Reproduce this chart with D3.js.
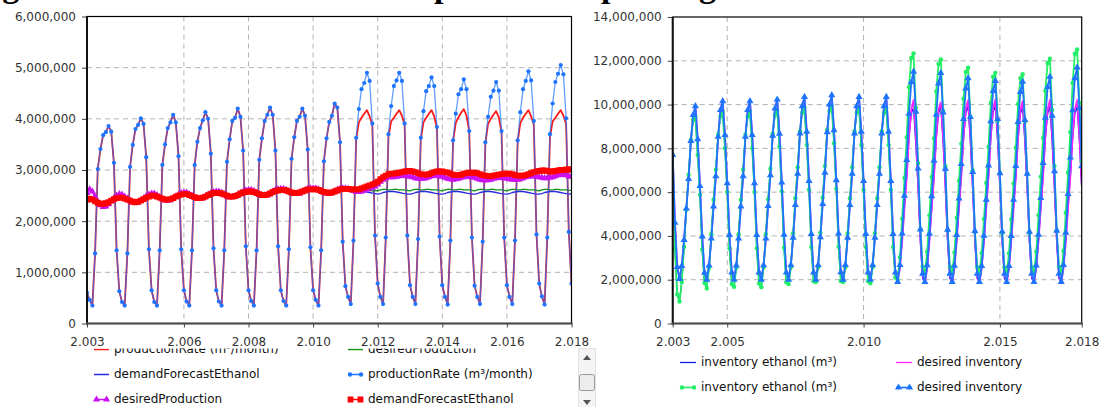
<!DOCTYPE html>
<html><head><meta charset="utf-8">
<script src="https://cdn.jsdelivr.net/npm/d3@7"></script>
<style>
body{margin:0;background:#fff;}
svg{display:block;font-family:"DejaVu Sans",sans-serif;}
</style>
</head><body>
<svg id="c" width="1105" height="407"></svg>
<script>
// ---------------- DATA (values in millions of m3, monthly, Jan 2003 .. Jan 2018) ----------------
const startYear = 2003;
const UNIT = 1e6;

// Left chart
const productionRateA = [
0.60,0.46,0.35,1.37,3.02,3.41,3.68,3.74,3.86,3.75,3.14,1.43,
0.63,0.42,0.35,1.37,3.06,3.49,3.80,3.88,4.01,3.90,3.25,1.45,
0.65,0.42,0.35,1.43,3.10,3.50,3.82,3.93,4.08,3.93,3.27,1.45,
0.65,0.43,0.35,1.43,3.10,3.55,3.82,3.97,4.13,4.00,3.32,1.47,
0.65,0.43,0.35,1.43,3.16,3.60,3.96,4.02,4.20,4.04,3.38,1.51,
0.65,0.44,0.35,1.43,3.20,3.62,3.96,4.08,4.22,4.08,3.38,1.51,
0.65,0.44,0.35,1.45,3.22,3.64,3.96,4.04,4.20,4.06,3.40,1.49,
0.65,0.46,0.35,1.43,3.17,3.62,3.94,4.06,4.30,4.22,3.54,1.60,
0.73,0.52,0.38,1.62,3.60,3.93,4.02,4.10,4.17,4.05,3.88,1.72,
0.78,0.52,0.38,1.68,3.65,3.95,4.02,4.10,4.17,4.06,3.88,1.72,
0.75,0.52,0.38,1.65,3.60,3.93,4.02,4.10,4.17,4.05,3.82,1.70,
0.75,0.52,0.37,1.62,3.56,3.92,4.03,4.12,4.19,4.06,3.76,1.68,
0.74,0.52,0.38,1.60,3.52,3.90,4.00,4.08,4.15,4.03,3.74,1.68,
0.75,0.52,0.38,1.62,3.56,3.92,4.02,4.10,4.17,4.05,3.88,1.74,
0.78,0.53,0.37,1.68,3.65,3.95,4.02,4.10,4.17,4.06,3.90,1.79,
0.78];
const desiredProductionA = [
2.55,2.62,2.58,2.48,2.38,2.31,2.28,2.29,2.33,2.39,2.45,2.50,
2.53,2.52,2.48,2.44,2.40,2.37,2.36,2.37,2.40,2.44,2.49,2.52,
2.54,2.54,2.51,2.47,2.43,2.41,2.40,2.41,2.44,2.48,2.52,2.55,
2.56,2.56,2.53,2.50,2.46,2.44,2.44,2.45,2.48,2.52,2.55,2.57,
2.58,2.58,2.56,2.52,2.49,2.47,2.47,2.48,2.51,2.55,2.58,2.60,
2.61,2.61,2.59,2.55,2.52,2.50,2.50,2.51,2.54,2.58,2.61,2.62,
2.63,2.63,2.61,2.58,2.55,2.53,2.53,2.54,2.57,2.60,2.63,2.64,
2.64,2.64,2.62,2.59,2.56,2.54,2.54,2.55,2.58,2.61,2.63,2.64,
2.64,2.63,2.61,2.59,2.58,2.59,2.60,2.61,2.61,2.60,2.59,2.60,
2.59,2.61,2.62,2.62,2.61,2.61,2.62,2.62,2.61,2.61,2.61,2.60,
2.59,2.61,2.62,2.62,2.61,2.61,2.62,2.62,2.61,2.61,2.61,2.60,
2.59,2.61,2.62,2.62,2.61,2.61,2.62,2.62,2.61,2.61,2.61,2.60,
2.59,2.61,2.62,2.62,2.61,2.61,2.62,2.62,2.61,2.61,2.61,2.60,
2.59,2.61,2.62,2.62,2.61,2.61,2.62,2.62,2.61,2.61,2.61,2.60,
2.59,2.61,2.62,2.62,2.61,2.61,2.62,2.62,2.61,2.61,2.61,2.60,
2.60];
const demandForecastA = [
2.42,2.44,2.42,2.39,2.36,2.34,2.34,2.35,2.37,2.40,2.43,2.45,
2.46,2.46,2.44,2.42,2.40,2.38,2.37,2.38,2.40,2.43,2.46,2.48,
2.50,2.50,2.48,2.46,2.44,2.42,2.42,2.43,2.45,2.48,2.50,2.52,
2.53,2.53,2.51,2.49,2.47,2.45,2.45,2.46,2.48,2.51,2.53,2.55,
2.55,2.55,2.54,2.52,2.50,2.48,2.48,2.49,2.51,2.54,2.56,2.57,
2.58,2.58,2.57,2.55,2.53,2.51,2.51,2.52,2.54,2.57,2.59,2.60,
2.61,2.61,2.60,2.58,2.56,2.55,2.55,2.56,2.58,2.60,2.62,2.62,
2.62,2.62,2.61,2.59,2.57,2.56,2.55,2.56,2.58,2.60,2.62,2.63,
2.63,2.63,2.62,2.61,2.60,2.59,2.58,2.58,2.57,2.56,2.55,2.54,
2.53,2.54,2.56,2.57,2.58,2.58,2.58,2.57,2.56,2.55,2.54,2.53,
2.53,2.54,2.56,2.57,2.58,2.58,2.58,2.57,2.56,2.55,2.54,2.53,
2.53,2.54,2.56,2.57,2.58,2.58,2.58,2.57,2.56,2.55,2.54,2.53,
2.53,2.54,2.56,2.57,2.58,2.58,2.58,2.57,2.56,2.55,2.54,2.53,
2.53,2.54,2.56,2.57,2.58,2.58,2.58,2.57,2.56,2.55,2.54,2.53,
2.53,2.54,2.56,2.57,2.58,2.58,2.58,2.57,2.56,2.55,2.54,2.53,
2.54];
const productionRateB = [
0.60,0.46,0.35,1.37,3.02,3.41,3.68,3.74,3.86,3.75,3.14,1.43,
0.63,0.42,0.35,1.37,3.06,3.49,3.80,3.88,4.01,3.90,3.25,1.45,
0.65,0.42,0.35,1.43,3.10,3.50,3.82,3.93,4.08,3.93,3.27,1.45,
0.65,0.43,0.35,1.43,3.10,3.55,3.82,3.97,4.13,4.00,3.32,1.47,
0.65,0.43,0.35,1.43,3.16,3.60,3.96,4.02,4.20,4.04,3.38,1.51,
0.65,0.44,0.35,1.43,3.20,3.62,3.96,4.08,4.22,4.08,3.38,1.51,
0.65,0.44,0.35,1.45,3.22,3.64,3.96,4.04,4.20,4.06,3.40,1.49,
0.65,0.46,0.35,1.43,3.17,3.62,3.94,4.06,4.30,4.22,3.54,1.60,
0.73,0.52,0.38,1.62,3.63,4.19,4.58,4.70,4.90,4.74,3.91,1.72,
0.78,0.52,0.38,1.68,3.70,4.25,4.64,4.75,4.90,4.74,3.91,1.72,
0.75,0.52,0.38,1.65,3.63,4.15,4.54,4.64,4.81,4.64,3.84,1.70,
0.75,0.52,0.37,1.62,3.58,4.10,4.48,4.58,4.77,4.58,3.76,1.68,
0.74,0.52,0.38,1.60,3.54,4.04,4.43,4.55,4.72,4.55,3.76,1.68,
0.75,0.52,0.38,1.62,3.58,4.13,4.58,4.74,4.93,4.75,3.96,1.74,
0.78,0.53,0.37,1.68,3.70,4.30,4.72,4.88,5.05,4.87,4.01,1.79,
0.78];
const desiredProductionB = [
2.55,2.62,2.58,2.48,2.38,2.31,2.28,2.29,2.33,2.39,2.45,2.50,
2.53,2.52,2.48,2.44,2.40,2.37,2.36,2.37,2.40,2.44,2.49,2.52,
2.54,2.54,2.51,2.47,2.43,2.41,2.40,2.41,2.44,2.48,2.52,2.55,
2.56,2.56,2.53,2.50,2.46,2.44,2.44,2.45,2.48,2.52,2.55,2.57,
2.58,2.58,2.56,2.52,2.49,2.47,2.47,2.48,2.51,2.55,2.58,2.60,
2.61,2.61,2.59,2.55,2.52,2.50,2.50,2.51,2.54,2.58,2.61,2.62,
2.63,2.63,2.61,2.58,2.55,2.53,2.53,2.54,2.57,2.60,2.63,2.64,
2.64,2.64,2.62,2.59,2.56,2.54,2.54,2.55,2.58,2.61,2.63,2.64,
2.64,2.63,2.61,2.59,2.57,2.57,2.58,2.60,2.62,2.64,2.66,2.68,
2.72,2.77,2.81,2.84,2.86,2.86,2.86,2.87,2.88,2.89,2.89,2.88,
2.87,2.86,2.84,2.83,2.83,2.83,2.84,2.86,2.88,2.89,2.89,2.88,
2.87,2.85,2.83,2.82,2.81,2.82,2.83,2.85,2.86,2.87,2.87,2.86,
2.85,2.83,2.81,2.80,2.80,2.80,2.81,2.83,2.84,2.85,2.85,2.84,
2.83,2.82,2.81,2.81,2.81,2.82,2.84,2.86,2.87,2.88,2.88,2.87,
2.86,2.85,2.84,2.84,2.85,2.86,2.88,2.90,2.91,2.91,2.90,2.88,
2.87];
const demandForecastB = [
2.42,2.44,2.42,2.39,2.36,2.34,2.34,2.35,2.37,2.40,2.43,2.45,
2.46,2.46,2.44,2.42,2.40,2.38,2.37,2.38,2.40,2.43,2.46,2.48,
2.50,2.50,2.48,2.46,2.44,2.42,2.42,2.43,2.45,2.48,2.50,2.52,
2.53,2.53,2.51,2.49,2.47,2.45,2.45,2.46,2.48,2.51,2.53,2.55,
2.55,2.55,2.54,2.52,2.50,2.48,2.48,2.49,2.51,2.54,2.56,2.57,
2.58,2.58,2.57,2.55,2.53,2.51,2.51,2.52,2.54,2.57,2.59,2.60,
2.61,2.61,2.60,2.58,2.56,2.55,2.55,2.56,2.58,2.60,2.62,2.62,
2.62,2.62,2.61,2.59,2.57,2.56,2.55,2.56,2.58,2.60,2.62,2.63,
2.63,2.63,2.62,2.62,2.62,2.62,2.64,2.66,2.68,2.70,2.72,2.74,
2.77,2.82,2.86,2.89,2.92,2.93,2.93,2.94,2.95,2.96,2.97,2.98,
2.98,2.97,2.96,2.94,2.92,2.91,2.91,2.92,2.94,2.96,2.97,2.97,
2.97,2.96,2.95,2.93,2.91,2.90,2.90,2.91,2.93,2.94,2.95,2.95,
2.95,2.94,2.92,2.90,2.89,2.88,2.88,2.89,2.90,2.91,2.92,2.93,
2.93,2.93,2.92,2.90,2.89,2.89,2.89,2.90,2.92,2.94,2.96,2.97,
2.98,2.99,2.99,2.98,2.97,2.97,2.98,2.99,3.00,3.00,3.01,3.01,
3.01];

// Right chart
const inventoryA = [
7.70,3.40,1.33,1.00,1.90,3.50,5.20,6.80,8.40,9.30,9.45,7.70,
5.88,3.38,1.85,1.60,2.55,4.08,5.65,7.03,8.63,9.45,9.66,8.01,
6.01,3.44,1.80,1.68,2.55,4.08,5.65,7.03,8.63,9.45,9.66,8.01,
6.01,3.44,1.83,1.66,2.56,4.09,5.67,7.07,8.68,9.52,9.73,8.07,
6.04,3.46,1.88,1.80,2.57,4.12,5.72,7.14,8.78,9.63,9.85,8.16,
6.11,3.49,1.93,1.89,2.57,4.14,5.76,7.19,8.84,9.71,9.93,8.23,
6.15,3.51,1.94,1.89,2.57,4.12,5.72,7.14,8.78,9.63,9.85,8.16,
6.11,3.49,1.93,1.84,2.57,4.12,5.72,7.14,8.78,9.63,9.85,8.16,
6.11,3.49,2.10,2.00,2.60,3.85,5.35,6.75,8.50,9.60,9.85,8.20,
6.20,3.70,2.05,1.90,2.55,3.80,5.30,6.70,8.45,9.60,9.90,8.30,
6.20,3.70,2.05,1.90,2.55,3.80,5.30,6.70,8.45,9.62,9.92,8.30,
6.21,3.71,2.05,1.90,2.55,3.81,5.31,6.72,8.47,9.64,9.95,8.32,
6.22,3.70,2.05,1.90,2.54,3.79,5.28,6.68,8.42,9.58,9.88,8.28,
6.19,3.69,2.05,1.90,2.55,3.80,5.30,6.70,8.45,9.60,9.90,8.30,
6.20,3.70,2.05,1.90,2.55,3.80,5.30,6.70,8.45,9.60,9.90,8.30,
6.20];
const desiredInventoryA = [
7.70,4.60,2.58,2.04,2.63,3.82,5.25,6.60,8.34,9.53,9.93,8.42,
6.28,3.98,2.32,2.00,2.65,3.88,5.35,6.73,8.53,9.75,10.16,8.61,
6.41,4.04,2.33,2.00,2.65,3.88,5.35,6.73,8.53,9.75,10.16,8.61,
6.41,4.04,2.33,2.00,2.66,3.89,5.37,6.77,8.58,9.82,10.23,8.67,
6.44,4.06,2.33,2.00,2.67,3.92,5.42,6.84,8.68,9.93,10.35,8.76,
6.51,4.09,2.33,2.00,2.67,3.94,5.46,6.89,8.74,10.01,10.43,8.83,
6.55,4.11,2.34,2.00,2.67,3.92,5.42,6.84,8.68,9.93,10.35,8.76,
6.51,4.09,2.33,2.00,2.67,3.92,5.42,6.84,8.68,9.93,10.35,8.76,
6.51,4.09,2.33,1.90,2.52,3.77,5.27,6.69,8.53,9.78,10.20,8.61,
6.36,3.94,2.18,1.85,2.52,3.77,5.27,6.69,8.53,9.78,10.10,8.55,
6.33,3.93,2.18,1.85,2.52,3.77,5.27,6.69,8.53,9.80,10.20,8.61,
6.36,3.94,2.18,1.85,2.52,3.78,5.28,6.71,8.55,9.82,10.23,8.63,
6.37,3.94,2.18,1.85,2.51,3.76,5.25,6.66,8.49,9.74,10.15,8.57,
6.33,3.92,2.18,1.85,2.52,3.77,5.27,6.69,8.53,9.78,10.20,8.61,
6.36,3.94,2.18,1.85,2.52,3.77,5.27,6.69,8.53,9.78,10.20,8.61,
6.36];
const inventoryB = [
7.70,3.40,1.33,1.00,1.90,3.50,5.20,6.80,8.40,9.30,9.45,7.70,
5.88,3.38,1.85,1.60,2.55,4.08,5.65,7.03,8.63,9.45,9.66,8.01,
6.01,3.44,1.80,1.68,2.55,4.08,5.65,7.03,8.63,9.45,9.66,8.01,
6.01,3.44,1.83,1.66,2.56,4.09,5.67,7.07,8.68,9.52,9.73,8.07,
6.04,3.46,1.88,1.80,2.57,4.12,5.72,7.14,8.78,9.63,9.85,8.16,
6.11,3.49,1.93,1.89,2.57,4.14,5.76,7.19,8.84,9.71,9.93,8.23,
6.15,3.51,1.94,1.89,2.57,4.12,5.72,7.14,8.78,9.63,9.85,8.16,
6.11,3.49,1.93,1.84,2.57,4.12,5.72,7.14,8.78,9.63,9.85,8.16,
6.11,3.49,2.10,2.00,3.03,4.79,6.65,8.51,10.79,12.13,12.34,9.86,
7.32,4.31,2.60,2.30,3.28,4.94,6.69,8.45,10.60,11.86,12.06,9.72,
7.18,4.25,2.59,2.30,3.24,4.83,6.52,8.21,10.27,11.49,11.68,9.43,
6.99,4.18,2.58,2.30,3.22,4.77,6.42,8.06,10.08,11.27,11.45,9.25,
6.88,4.13,2.57,2.30,3.21,4.75,6.39,8.03,10.03,11.21,11.39,9.21,
6.85,4.12,2.57,2.30,3.28,4.95,6.71,8.47,10.63,11.90,12.10,9.75,
7.20,4.26,2.59,2.30,3.32,5.06,6.90,8.74,10.99,12.32,12.52,10.07,
7.41];
const desiredInventoryB = [
7.70,4.60,2.58,2.04,2.63,3.82,5.25,6.60,8.34,9.53,9.93,8.42,
6.28,3.98,2.32,2.00,2.65,3.88,5.35,6.73,8.53,9.75,10.16,8.61,
6.41,4.04,2.33,2.00,2.65,3.88,5.35,6.73,8.53,9.75,10.16,8.61,
6.41,4.04,2.33,2.00,2.66,3.89,5.37,6.77,8.58,9.82,10.23,8.67,
6.44,4.06,2.33,2.00,2.67,3.92,5.42,6.84,8.68,9.93,10.35,8.76,
6.51,4.09,2.33,2.00,2.67,3.94,5.46,6.89,8.74,10.01,10.43,8.83,
6.55,4.11,2.34,2.00,2.67,3.92,5.42,6.84,8.68,9.93,10.35,8.76,
6.51,4.09,2.33,2.00,2.67,3.92,5.42,6.84,8.68,9.93,10.35,8.76,
6.51,4.09,2.33,1.90,2.67,4.11,5.84,7.47,9.58,11.02,11.50,9.68,
7.08,4.30,2.28,1.90,2.66,4.10,5.82,7.44,9.54,10.97,11.45,9.64,
7.06,4.29,2.28,1.90,2.64,4.04,5.71,7.29,9.34,10.74,11.20,9.43,
6.92,4.23,2.27,1.90,2.63,4.01,5.66,7.22,9.24,10.62,11.08,9.34,
6.86,4.20,2.27,1.90,2.63,4.00,5.65,7.20,9.21,10.58,11.04,9.30,
6.84,4.19,2.27,1.90,2.65,4.06,5.74,7.33,9.40,10.80,11.27,9.49,
6.96,4.24,2.27,1.90,2.68,4.15,5.92,7.58,9.74,11.21,11.70,9.84,
7.19];

// Axis ticks and labels
const leftXTicks = [2003, 2006, 2008, 2010, 2012, 2014, 2016, 2018];
const leftYTicks = [0, 1, 2, 3, 4, 5, 6];
const rightXTicks = [2003, 2005, 2010, 2015, 2018];
const rightYTicks = [0, 2, 4, 6, 8, 10, 12, 14];
// title line of the page, cut off by the top edge (only its descenders show)
const titleParts = [
  {x: -28, t: "Figura 5 – Taxa de"},
  {x: 434, t: "produto"},
  {x: 601, t: "pelo"},
  {x: 699, t: "gerado"}
];

const leftLegend = [
  {name:"productionRate (m³/month)", kind:"line", color:"#ff1a1a"},
  {name:"desiredProduction", kind:"line", color:"#129112"},
  {name:"demandForecastEthanol", kind:"line", color:"#2a2ae0"},
  {name:"productionRate (m³/month)", kind:"circle", color:"#1f74ff"},
  {name:"desiredProduction", kind:"triangle", color:"#cc10f0"},
  {name:"demandForecastEthanol", kind:"square", color:"#ff0000"}
];
const rightLegend = [
  {name:"inventory ethanol (m³)", kind:"line", color:"#1a1ae6"},
  {name:"desired inventory", kind:"line", color:"#ff22ff"},
  {name:"inventory ethanol (m³)", kind:"circle", color:"#22ee66"},
  {name:"desired inventory", kind:"triangle", color:"#1f74ff"}
];

// ---------------- DRAWING ----------------
const svg = d3.select("#c");
const months = d3.range(productionRateB.length).map(i => startYear + i / 12);
const fmtX = d3.formatLocale({decimal:",", thousands:".", grouping:[3], currency:["",""]}).format(",");
const fmtY = d3.format(",");

const title = svg.append("text")
  .attr("font-family", "'Liberation Serif', serif").attr("font-weight", "bold")
  .attr("font-size", 34).attr("fill", "#000");
titleParts.forEach(p => title.append("tspan").attr("x", p.x).attr("y", -3).text(p.t));

function symbolPath(kind) {
  if (kind === "triangle") return d3.symbol(d3.symbolTriangle, 22)();
  if (kind === "square") return d3.symbol(d3.symbolSquare, 34)();
  return null;
}

function drawChart(cfg) {
  const x = d3.scaleLinear().domain([2003, 2018]).range([cfg.x0, cfg.x1]);
  const y = d3.scaleLinear().domain([0, cfg.yMax]).range([cfg.yb, cfg.yt]);
  const g = svg.append("g");
  const clipId = "clip" + cfg.id;
  svg.append("clipPath").attr("id", clipId).append("rect")
    .attr("x", cfg.x0).attr("y", cfg.yt).attr("width", cfg.x1 - cfg.x0).attr("height", cfg.yb - cfg.yt);

  // grid
  g.selectAll(".hg").data(cfg.yTicks.filter(v => v > 0 && v < cfg.yMax)).join("line")
    .attr("x1", cfg.x0).attr("x2", cfg.x1).attr("y1", d => y(d)).attr("y2", d => y(d))
    .attr("stroke", "#b3b3b3").attr("stroke-width", 1).attr("stroke-dasharray", "5,4");
  g.selectAll(".vg").data(cfg.xTicks.filter(v => v > 2003 && v < 2018)).join("line")
    .attr("x1", d => x(d)).attr("x2", d => x(d)).attr("y1", cfg.yt).attr("y2", cfg.yb)
    .attr("stroke", "#b3b3b3").attr("stroke-width", 1).attr("stroke-dasharray", "5,4");

  // axes
  const ay = g.append("g").attr("transform", `translate(${cfg.x0},0)`)
    .call(d3.axisLeft(y).tickValues(cfg.yTicks).tickFormat(v => fmtY(v * UNIT)).tickSize(5).tickPadding(6).tickSizeOuter(0));
  const ax = g.append("g").attr("transform", `translate(0,${cfg.yb})`)
    .call(d3.axisBottom(x).tickValues(cfg.xTicks).tickFormat(fmtX).tickSize(4).tickPadding(10).tickSizeOuter(0));
  [ay, ax].forEach(a => {
    a.select(".domain").remove();
    a.selectAll("line").attr("stroke", "#444");
    a.selectAll("text").attr("font-size", 12).attr("fill", "#333").attr("font-family", "'DejaVu Sans', sans-serif");
  });

  // series
  const plot = g.append("g").attr("clip-path", `url(#${clipId})`);
  cfg.series.forEach(s => {
    const line = d3.line().x((d, i) => x(months[i])).y(d => y(d));
    plot.append("path").datum(s.data).attr("d", line)
      .attr("fill", "none").attr("stroke", s.color).attr("stroke-width", s.width)
      .attr("stroke-opacity", s.opacity || 1).attr("stroke-linejoin", "round");
    if (s.kind === "circle") {
      plot.append("g").selectAll("circle").data(s.data).join("circle")
        .attr("cx", (d, i) => x(months[i])).attr("cy", d => y(d)).attr("r", s.r || 2.1).attr("fill", s.color);
    } else if (s.kind === "triangle" || s.kind === "square") {
      const p = symbolPath(s.kind);
      plot.append("g").selectAll("path").data(s.data).join("path")
        .attr("d", p).attr("transform", (d, i) => `translate(${x(months[i])},${y(d)})`).attr("fill", s.color);
    }
  });

  // frame
  g.append("rect").attr("x", cfg.x0).attr("y", cfg.yt).attr("width", cfg.x1 - cfg.x0).attr("height", cfg.yb - cfg.yt)
    .attr("fill", "none").attr("stroke", "#000").attr("stroke-width", 1.2);
  g.append("line").attr("x1", cfg.x0).attr("x2", cfg.x0).attr("y1", cfg.yt).attr("y2", cfg.yb + 1)
    .attr("stroke", "#111").attr("stroke-width", 2);
  g.append("line").attr("x1", cfg.x0 - 1).attr("x2", cfg.x1 + 1).attr("y1", cfg.yb).attr("y2", cfg.yb)
    .attr("stroke", "#4a4a4a").attr("stroke-width", 2);
  return {x, y};
}

function drawLegend(items, opt) {
  const lg = svg.append("g");
  const clipId = "lclip" + opt.id;
  svg.append("clipPath").attr("id", clipId).append("rect")
    .attr("x", opt.clipX).attr("y", opt.clipTop).attr("width", opt.clipW).attr("height", 407 - opt.clipTop);
  lg.attr("clip-path", `url(#${clipId})`);
  items.forEach((it, k) => {
    const col = k % 2, row = Math.floor(k / 2);
    const sx = opt.colX[col], by = opt.rowBase[row];
    const cy = by - 3.5;
    const sg = lg.append("g");
    sg.append("line").attr("x1", sx).attr("x2", sx + opt.symW).attr("y1", cy).attr("y2", cy)
      .attr("stroke", it.color).attr("stroke-width", it.kind === "line" ? 1.3 : 1.6);
    if (it.kind === "circle") {
      [sx + 2, sx + opt.symW - 2].forEach(px => sg.append("circle").attr("cx", px).attr("cy", cy).attr("r", 2.2).attr("fill", it.color));
    } else if (it.kind !== "line") {
      const p = symbolPath(it.kind);
      [sx + 2.5, sx + opt.symW - 2.5].forEach(px => sg.append("path").attr("d", p).attr("transform", `translate(${px},${cy})`).attr("fill", it.color));
    }
    lg.append("text").attr("x", sx + opt.symW + 5).attr("y", by).attr("font-size", 12).attr("fill", "#111")
      .text(it.name);
  });
}

drawChart({
  id: "L", x0: 87, x1: 571.5, yt: 16.5, yb: 323.5, yMax: 6,
  xTicks: leftXTicks, yTicks: leftYTicks,
  series: [
    {data: productionRateA, color: "#ff1a1a", width: 1.8, kind: "line"},
    {data: desiredProductionA, color: "#129112", width: 1.3, kind: "line"},
    {data: demandForecastA, color: "#2a2ae0", width: 1.3, kind: "line"},
    {data: productionRateB, color: "#1f74ff", width: 1.3, kind: "circle", opacity: 0.7, r: 2.1},
    {data: desiredProductionB, color: "#cc10f0", width: 2, kind: "triangle"},
    {data: demandForecastB, color: "#ff0000", width: 2, kind: "square"}
  ]
});
drawChart({
  id: "R", x0: 672.7, x1: 1081.7, yt: 17, yb: 323.5, yMax: 14,
  xTicks: rightXTicks, yTicks: rightYTicks,
  series: [
    {data: inventoryA, color: "#1a1ae6", width: 1.3, kind: "line"},
    {data: desiredInventoryA, color: "#ff22ff", width: 1.8, kind: "line"},
    {data: inventoryB, color: "#22ee66", width: 1.8, kind: "circle", r: 2.2},
    {data: desiredInventoryB, color: "#1f74ff", width: 1.8, kind: "triangle"}
  ]
});

drawLegend(leftLegend, {id: "L", clipX: 80, clipTop: 348.5, clipW: 495, colX: [94, 348], rowBase: [353, 378, 403], symW: 15});
drawLegend(rightLegend, {id: "R", clipX: 660, clipTop: 350, clipW: 440, colX: [680, 896], rowBase: [366, 391], symW: 16});

// scrollbar of the left legend pane
const sb = svg.append("g");
sb.append("rect").attr("x", 578.5).attr("y", 348.5).attr("width", 17).attr("height", 60).attr("fill", "#f4f4f4").attr("stroke", "#e2e2e2");
sb.append("path").attr("d", "M583,360 L587,355 L591,360 Z").attr("fill", "#555");
sb.append("rect").attr("x", 579.5).attr("y", 374.5).attr("width", 15).attr("height", 16).attr("rx", 2)
  .attr("fill", "#ececec").attr("stroke", "#9a9a9a");
sb.append("path").attr("d", "M583,400 L587,405 L591,400 Z").attr("fill", "#555");
</script>
</body></html>
